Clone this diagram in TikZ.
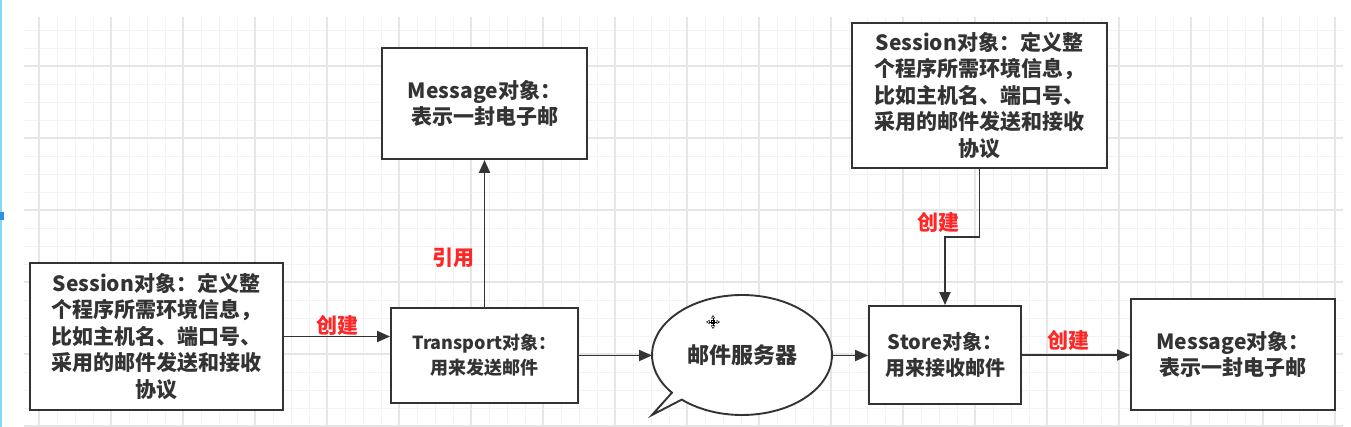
\documentclass[tikz,border=0pt]{standalone}
\usepackage{fontspec}
\setmainfont{Noto Sans CJK SC}
\usetikzlibrary{arrows.meta,calc}
\definecolor{ln}{HTML}{333333}
\definecolor{tx}{HTML}{333333}
\definecolor{lb}{HTML}{FF2626}
\definecolor{gminor}{HTML}{F3F3F3}
\definecolor{gmajor}{HTML}{E6E6E6}
\definecolor{edgecol}{HTML}{86D8F7}
\definecolor{bluemark}{HTML}{2E8FE6}
\tikzset{
  box/.style={draw=ln, line width=1.9pt, fill=white, rectangle, align=center, text=tx, inner sep=0pt,
    font=\fontsize{21}{26.5}\selectfont\bfseries},
  arr/.style={draw=ln, line width=1.9pt, -{Triangle[length=13pt,width=11pt]}},
  lab/.style={text=lb, font=\fontsize{21}{24}\selectfont\bfseries, inner sep=0pt},
  minorline/.style={draw=gminor, line width=0.9pt},
  majorline/.style={draw=gmajor, line width=1.2pt}
}
\begin{document}
\begin{tikzpicture}[x=1pt,y=-1pt]
\useasboundingbox (0,0) rectangle (1351,427);
\fill[white] (0,0) rectangle (1351,427);
% grid
\foreach \x in {39,57,...,1340} \draw[minorline] (\x,17) -- (\x,427);
\foreach \y in {30,48,...,426} \draw[minorline] (24,\y) -- (1343,\y);
\foreach \x in {39,111,...,1340} \draw[majorline] (\x,17) -- (\x,427);
\foreach \y in {66,138,...,426} \draw[majorline] (24,\y) -- (1343,\y);
% left window edge
\fill[fill=edgecol] (0,0) rectangle (2,427);
\fill[fill=bluemark] (0,212) rectangle (4,220);
% boxes
\node[box, minimum width=253pt, minimum height=147pt] (s1) at (156.5,336.5)
  {Session对象：定义整\\个程序所需环境信息，\\比如主机名、端口号、\\采用的邮件发送和接收\\协议};
\node[box, minimum width=187pt, minimum height=95pt, font=\fontsize{18}{25}\selectfont\bfseries] (tr) at (484.5,355.5)
  {Transport对象：\\用来发送邮件};
\node[box, minimum width=205pt, minimum height=111pt] (m1) at (484.5,103.5)
  {Message对象：\\表示一封电子邮};
\node[box, minimum width=255pt, minimum height=145pt] (s2) at (979.5,95.5)
  {Session对象：定义整\\个程序所需环境信息，\\比如主机名、端口号、\\采用的邮件发送和接收\\协议};
\node[box, minimum width=152pt, minimum height=98pt, font=\fontsize{20}{26}\selectfont\bfseries] (st) at (945,355)
  {Store对象：\\用来接收邮件};
\node[box, minimum width=204pt, minimum height=111pt] (m2) at (1233,354.5)
  {Message对象：\\表示一封电子邮};
% bubble
\filldraw[draw=ln, fill=white, line width=1.9pt]
  ([shift={(742,355)}]228:90pt and 60pt) arc[start angle=228, end angle=578.9, x radius=90pt, y radius=60pt]
  -- (652,415) -- cycle;
\node[text=tx, font=\fontsize{22}{26}\selectfont\bfseries, inner sep=0pt] (srv) at (742,355) {邮件服务器};
\coordinate (bw) at (652,355.5);
\coordinate (be) at (832,355.5);
% cursor icon
\begin{scope}[shift={(713,322)}]
  \draw[black, line width=0.5pt, {Triangle[open,length=3.5pt,width=4pt]}-{Triangle[open,length=3.5pt,width=4pt]}] (-7,0) -- (7,0);
  \draw[black, line width=0.5pt, {Triangle[open,length=3.5pt,width=4pt]}-{Triangle[open,length=3.5pt,width=4pt]}] (0,-7) -- (0,7);
  \draw[black, line width=0.5pt] (-1.5,-1.5) rectangle (1.5,1.5);
\end{scope}
% connectors
\draw[arr] (s1.east) -- (s1.east -| tr.west);
\node[lab] (l1) at (337,325) {创建};
\draw[arr] (tr.north) -- (m1.south);
\node[lab] (l2) at (453,258) {引用};
\draw[arr] (tr.east) -- (bw);
\draw[arr] (be) -- (be -| st.west);
\draw[arr] (st.east) -- (st.east -| m2.west);
\node[lab] (l3) at (1068,340) {创建};
\draw[arr] (s2.south) -- (s2.south |- 0,237) -| (st.north);
\node[lab] (l4) at (938,222) {创建};
\end{tikzpicture}
\end{document}
